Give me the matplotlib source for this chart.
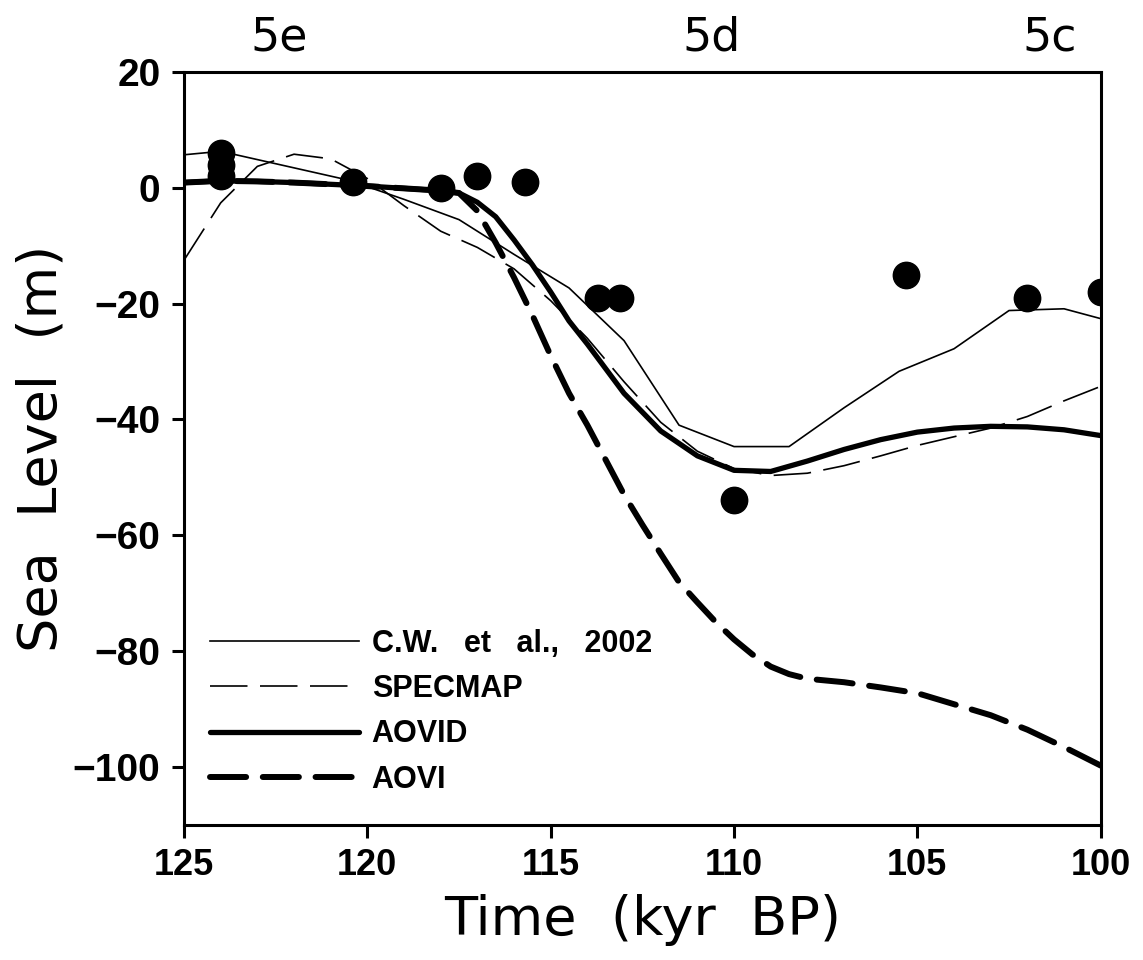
import matplotlib.pyplot as plt
import numpy as np

plt.switch_backend("Agg")
plt.rcParams["font.family"] = ["Liberation Sans", "DejaVu Sans"]
plt.rcParams["axes.unicode_minus"] = True
plt.rcParams["lines.scale_dashes"] = False

# --- data ---
# C.W. et al., 2002 (thin solid)
cw_time = [125, 124, 120.5, 119, 117.5, 116, 114.5, 113, 111.5, 110, 108.5, 107, 105.5, 104, 102.5, 101, 100]
cw_sl = [5.7, 6.3, 1.3, -2.0, -5.5, -11.5, -17.3, -26.4, -41.0, -44.7, -44.7, -38.0, -31.7, -27.8, -21.2, -20.9, -22.6]

# SPECMAP (thin dashed)
spec_time = [125, 124, 123, 122, 121, 120, 119, 118, 117, 116, 115, 114, 113, 112, 111, 110, 109, 108, 107,
             106, 105, 104, 103, 102, 101, 100]
spec_sl = [-12.5, -2.6, 3.7, 5.8, 5.0, 1.6, -3.1, -7.5, -10.3, -14.0, -19.5, -26.0, -33.5, -40.5, -45.5, -48.5,
           -49.7, -49.3, -48.0, -46.3, -44.5, -43.0, -41.5, -39.5, -36.8, -34.3]

# AOVID (thick solid)
aovid_time = [125, 124, 123, 122, 121, 120, 119, 118, 117.5, 117, 116.5, 116, 115.5, 115, 114.5, 114, 113, 112,
              111, 110, 109, 108, 107, 106, 105, 104, 103, 102, 101, 100]
aovid_sl = [0.9, 1.2, 1.1, 0.9, 0.6, 0.3, -0.1, -0.5, -0.9, -2.5, -5.0, -9.0, -13.3, -18.0, -23.0, -27.0, -35.5,
            -42.0, -46.3, -48.8, -49.0, -47.2, -45.2, -43.5, -42.2, -41.5, -41.2, -41.3, -41.8, -42.8]

# AOVI (thick dashed)
aovi_time = [125, 124, 123, 122, 121, 120, 119, 118, 117.5, 117, 116.5, 116, 115.5, 115, 114.5, 114, 113.5, 113,
             112.5, 112, 111.5, 111, 110.5, 110, 109.5, 109, 108.5, 108, 107, 106, 105, 104, 103, 102, 101, 100]
aovi_sl = [0.9, 1.2, 1.1, 0.9, 0.6, 0.3, -0.1, -0.5, -0.9, -4.0, -9.5, -15.5, -22.0, -29.0, -35.5, -41.0, -47.0,
           -53.0, -58.2, -63.2, -68.1, -71.6, -75.0, -78.0, -80.6, -82.7, -84.0, -84.8, -85.4, -86.3, -87.3,
           -89.2, -91.1, -93.6, -96.6, -99.8]

# observed sea level (dots)
obs_time = [124, 124, 124, 120.4, 118, 117, 115.7, 113.7, 113.1, 110, 105.3, 102, 100]
obs_sl = [6, 4, 2, 1, 0, 2, 1, -19, -19, -54, -15, -19, -18]

# marine isotope substages
stage_names = ["5e", "5d", "5c"]
stage_time = [122.4, 110.6, 101.4]

fig = plt.figure(figsize=(11.43, 9.6), dpi=100)
ax = fig.add_axes([0.161, 0.141, 0.802, 0.784])

ax.plot(cw_time, cw_sl, color="black", linewidth=1.2, label="C.W.   et   al.,   2002")
ax.plot(spec_time, spec_sl, color="black", linewidth=1.2, dashes=(27, 9), label="SPECMAP")
ax.plot(aovid_time, aovid_sl, color="black", linewidth=3.8, solid_capstyle="round",
        label="AOVID")
ax.plot(aovi_time, aovi_sl, color="black", linewidth=4.3, dashes=(26, 12),
        dash_capstyle="round", label="AOVI")
ax.plot(obs_time, obs_sl, "o", color="black", markersize=19, zorder=5)

ax.set_xlim(125, 100)
ax.set_ylim(-110, 20)
ax.set_xticks(np.arange(125, 99, -5))
ax.set_yticks(np.arange(-100, 21, 20))

for spine in ax.spines.values():
    spine.set_linewidth(2.2)
ax.tick_params(direction="out", length=9, width=2.2, labelsize=26, pad=8,
               top=False, right=False)
ax.tick_params(axis="y", labelsize=28)
for lab in ax.get_xticklabels() + ax.get_yticklabels():
    lab.set_fontweight("bold")

ax.set_xlabel("Time  (kyr  BP)", fontsize=39, family="DejaVu Sans", labelpad=8)
ax.set_ylabel("Sea  Level  (m)", fontsize=39, family="DejaVu Sans", labelpad=4)

for name, t in zip(stage_names, stage_time):
    ax.text(t, 1.015, name, transform=ax.get_xaxis_transform(), fontsize=33,
            family="DejaVu Sans", ha="center", va="bottom")

leg = ax.legend(loc="lower left", bbox_to_anchor=(0.028, 0.04), frameon=False,
                fontsize=22, handlelength=4.9, handletextpad=0.4, labelspacing=0.5,
                borderaxespad=0, borderpad=0)
for t in leg.get_texts():
    t.set_fontweight("bold")

plt.savefig("out.png", dpi=100)
plt.close()
